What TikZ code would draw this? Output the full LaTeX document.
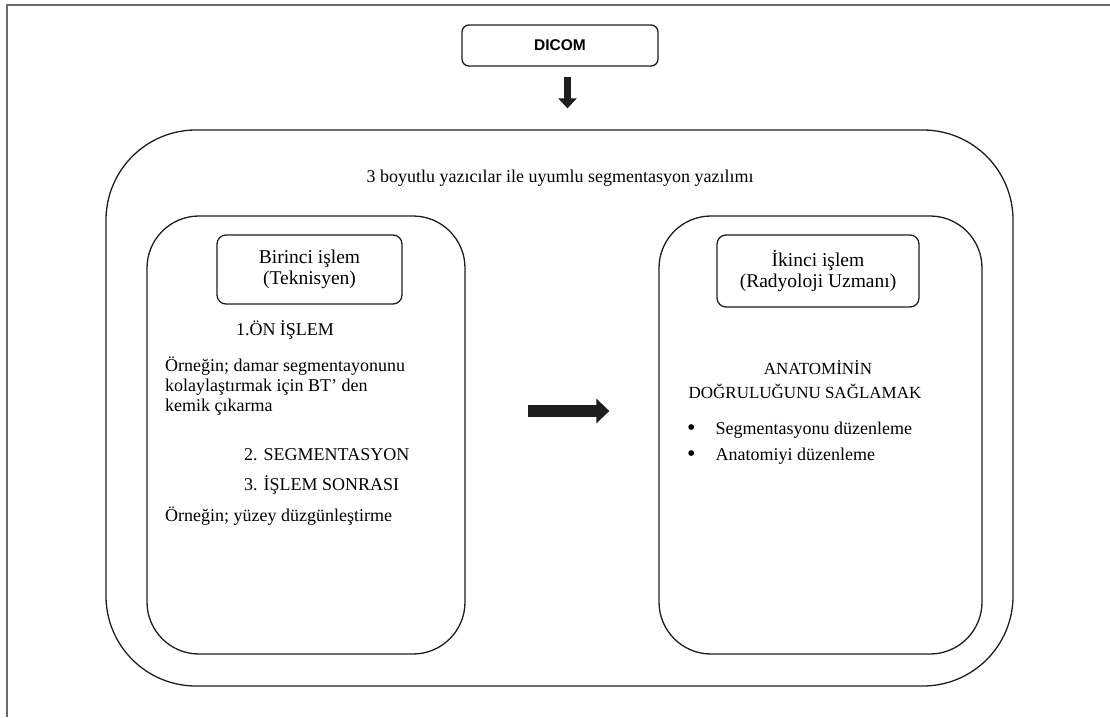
\documentclass[tikz,border=0pt]{standalone}
\usepackage{fontspec}
\setmainfont{Liberation Serif}
\newfontfamily\dicomfont{Liberation Sans}
\usepackage{tikz}
\usetikzlibrary{arrows.meta,positioning,calc}
\definecolor{Ink}{HTML}{1E1E1E}
\definecolor{FrameGray}{HTML}{6A6A6A}
\newcommand\bigbullet{\raisebox{-1.5pt}{\fontsize{24}{26}\selectfont•}}

\begin{document}
\begin{tikzpicture}[x=1pt, y=-1pt, font=\fontsize{18}{20}\selectfont]
\tikzset{frame/.style={draw=FrameGray, line width=2pt}, panel/.style={draw=Ink, line width=1.3pt, rounded corners=52pt, minimum width=320pt, minimum height=438pt}, tag/.style={draw=Ink, line width=1.3pt, rounded corners=9pt, align=center, font=\fontsize{19.5}{21}\selectfont}, txt/.style={inner sep=0pt, align=left}, bigarrow/.style={Ink, line width=12pt, -{Triangle[width=24pt,length=13pt]}}, downarrow/.style={Ink, line width=7pt, -{Triangle[width=18pt,length=10pt]}}}
\useasboundingbox (0,0) rectangle (1110,717);
\draw[frame] (6.5,717) -- (6.5,5.5) -- (1110,5.5);
\node[tag, rounded corners=7pt, minimum width=196pt, minimum height=41pt, font=\dicomfont\bfseries\fontsize{15.5}{17}\selectfont] (dicom) at (560,45.5) {DICOM};
\node[draw=Ink, line width=1.3pt, rounded corners=90pt, minimum width=907pt, minimum height=556pt] (outer) at (559.5,408) {};
\node[inner sep=0pt] (title) at (560,178) {3 boyutlu yazıcılar ile uyumlu segmentasyon yazılımı};
\node[panel, minimum width=318pt] (left) at (306,435) {};
\node[panel, minimum width=323pt] (right) at (820.5,435) {};
\node[tag, minimum width=185pt, minimum height=69pt] (first) at (309.5,269.5) {Birinci işlem\\(Teknisyen)};
\node[tag, minimum width=202pt, minimum height=72pt] (second) at (818,271) {İkinci işlem\\(Radyoloji Uzmanı)};
\node[txt] (pre) at (285,330) {1.ÖN İŞLEM};
\node[txt, anchor=west] (preex) at (165,386) {Örneğin; damar segmentayonunu\\kolaylaştırmak için BT’ den\\kemik çıkarma};
\node[txt, anchor=west] (seg) at (244,455) {2. SEGMENTASYON};
\node[txt, anchor=west] (post) at (244,485) {3. İŞLEM SONRASI};
\node[txt, anchor=west] (postex) at (165,516) {Örneğin; yüzey düzgünleştirme};
\node[txt, align=center, font=\fontsize{17}{24}\selectfont] (goal) at (805,380) {\hspace*{26pt}ANATOMİNİN\\DOĞRULUĞUNU SAĞLAMAK};
\node[txt, anchor=west, font=\fontsize{18}{26}\selectfont] (edits) at (687,443) {\bigbullet\hspace{20pt}Segmentasyonu düzenleme\\\bigbullet\hspace{20pt}Anatomiyi düzenleme};
\draw[downarrow] ([xshift=7.5pt,yshift=-10pt]dicom.south) -- ([xshift=8pt,yshift=21pt]outer.north);
\draw[bigarrow] ([xshift=62pt,yshift=24pt]left.east) -- ([xshift=-49pt,yshift=24pt]right.west);
\end{tikzpicture}
\end{document}
